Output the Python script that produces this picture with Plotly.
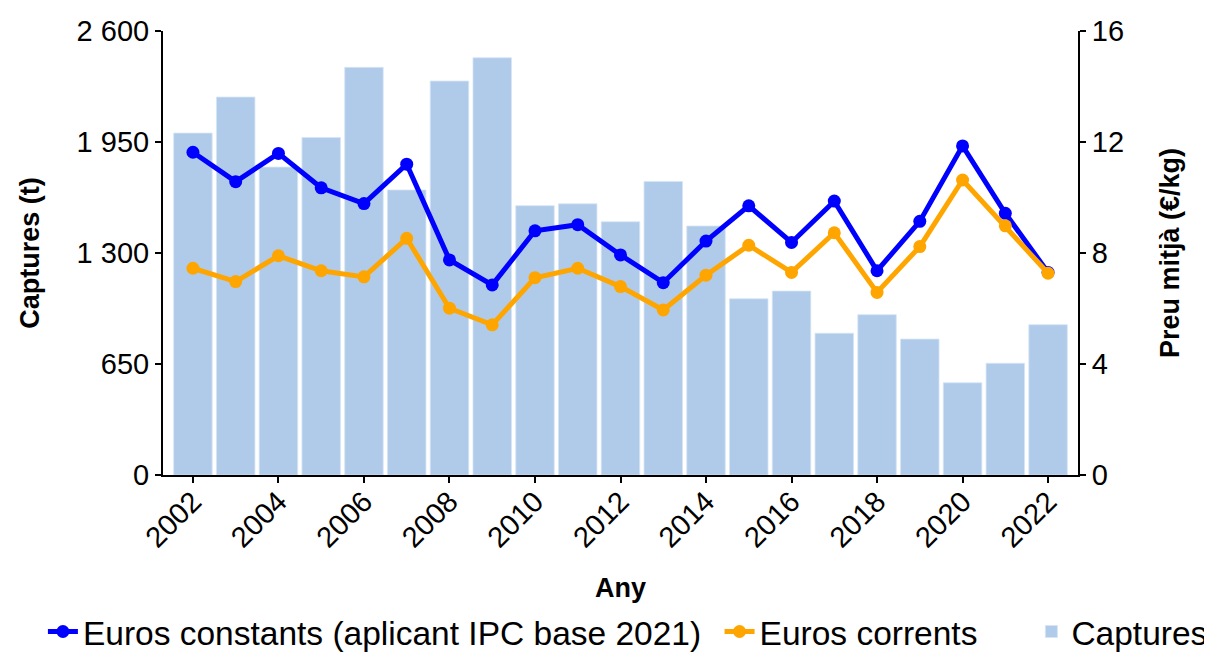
import plotly.graph_objects as go

anys = list(range(2002, 2023))

captures = [2002, 2213, 1803, 1976, 2387, 1669, 2307, 2443, 1577, 1588, 1483,
            1719, 1458, 1032, 1077, 830, 939, 796, 540, 654, 880]

euros_constants = [11.63, 10.57, 11.59, 10.35, 9.78, 11.20, 7.75, 6.85, 8.80, 9.02, 7.93,
                   6.93, 8.43, 9.70, 8.38, 9.87, 7.36, 9.14, 11.86, 9.43, 7.30]

euros_corrents = [7.45, 6.97, 7.90, 7.36, 7.14, 8.53, 6.01, 5.41, 7.11, 7.45, 6.79,
                  5.95, 7.20, 8.28, 7.30, 8.73, 6.58, 8.23, 10.63, 8.98, 7.27]

color_barres = '#b0cbea'
color_constants = '#0000ff'
color_corrents = '#ffa500'
font = 'Liberation Sans, Arial, sans-serif'

fig = go.Figure()

fig.add_trace(go.Bar(
    x=anys, y=captures, name='Captures',
    marker=dict(color=color_barres, line=dict(color='#d6e4f4', width=0.8)),
    width=0.9, legend='legend3'
))

fig.add_trace(go.Scatter(
    x=anys, y=euros_constants, name='Euros constants (aplicant IPC base 2021)',
    mode='lines+markers', yaxis='y2',
    line=dict(color=color_constants, width=5),
    marker=dict(color=color_constants, size=13),
    legend='legend'
))

fig.add_trace(go.Scatter(
    x=anys, y=euros_corrents, name='Euros corrents',
    mode='lines+markers', yaxis='y2',
    line=dict(color=color_corrents, width=5),
    marker=dict(color=color_corrents, size=13),
    legend='legend2'
))

eix = dict(
    showline=True, linecolor='black', linewidth=2,
    ticks='outside', tickcolor='black', tickwidth=1.5, ticklen=6,
    showgrid=False, zeroline=False, automargin=False,
    tickfont=dict(size=29, color='black', family=font),
)

llegenda = dict(
    orientation='h', xref='container', yref='container',
    xanchor='left', y=0.033, yanchor='middle',
    font=dict(size=33.5, color='black', family=font), itemwidth=30,
    bgcolor='rgba(0,0,0,0)',
)

fig.update_layout(
    width=1204, height=645,
    margin=dict(l=155, r=134, t=23, b=178, autoexpand=False),
    plot_bgcolor='white', paper_bgcolor='white',
    font=dict(family=font, color='black'),
    bargap=0.1,
    xaxis=dict(
        **eix, range=[2001.3, 2022.7], tickmode='array',
        tickvals=anys[::2], tickangle=-45, ticklabelstandoff=-10,
        title=dict(text='<b>Any</b>', font=dict(size=27), standoff=52),
    ),
    yaxis=dict(
        **eix, range=[0, 2600], tickmode='array',
        tickvals=[0, 650, 1300, 1950, 2600],
        ticktext=['0', '650', '1 300', '1 950', '2 600'],
        title=dict(text='<b>Captures (t)</b>', font=dict(size=27), standoff=29),
    ),
    yaxis2=dict(
        **eix, range=[0, 16], overlaying='y', side='right',
        tickmode='array', tickvals=[0, 4, 8, 12, 16],
        title=dict(text='<b>Preu mitjà (€/kg)</b>', font=dict(size=27), standoff=37),
    ),
    legend=dict(llegenda, x=0.029),
    legend2=dict(llegenda, x=0.591),
    legend3=dict(llegenda, x=0.850),
    showlegend=True,
)

fig.write_html("out.html")
